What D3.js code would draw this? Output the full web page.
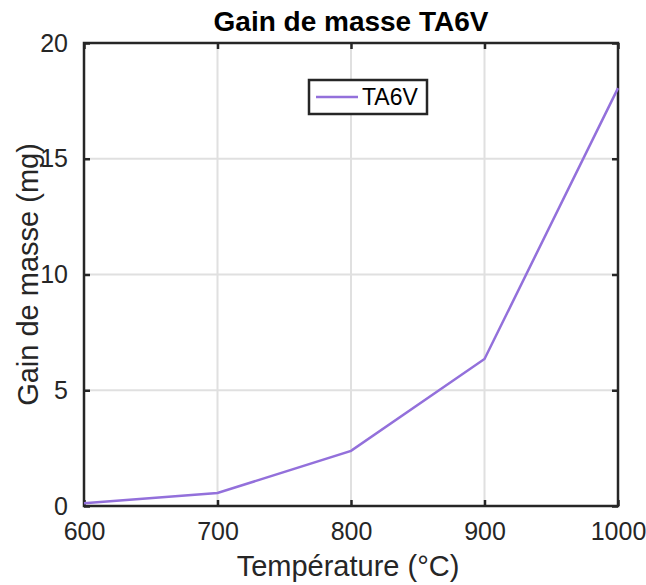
<!DOCTYPE html>
<html>
<head>
<meta charset="utf-8">
<script src="https://cdn.jsdelivr.net/npm/d3@7"></script>
<style>
  body { margin: 0; background: #fff; }
  text { font-family: "Liberation Sans", Arial, sans-serif; fill: #262626; }
</style>
</head>
<body>
<script>
var temperatures = [600, 700, 800, 900, 1000];
var gain = [0.12, 0.56, 2.38, 6.35, 18.05];
var xTicks = [600, 700, 800, 900, 1000];
var yTicks = [0, 5, 10, 15, 20];
var seriesName = 'TA6V';

var w = 646;
var h = 585;
// plot box edges (note: "top" is a reserved window global, so use prefixed names)
var pLeft = 84, pRight = 618, pTop = 43, pBottom = 506;
var axisColor = '#262626';
var lineColor = '#9370db';

var svg = d3.select('body')
            .append('svg')
            .attr('width', w)
            .attr('height', h);

var x = d3.scaleLinear().domain([600, 1000]).range([pLeft, pRight]);
var y = d3.scaleLinear().domain([0, 20]).range([pBottom, pTop]);

// grid
svg.selectAll('line.gx')
  .data(xTicks.slice(1, -1))
  .enter()
  .append('line')
    .attr('x1', d => x(d)).attr('x2', d => x(d))
    .attr('y1', pTop).attr('y2', pBottom)
    .attr('stroke', '#e0e0e0').attr('stroke-width', 2);

svg.selectAll('line.gy')
  .data(yTicks.slice(1, -1))
  .enter()
  .append('line')
    .attr('y1', d => y(d)).attr('y2', d => y(d))
    .attr('x1', pLeft).attr('x2', pRight)
    .attr('stroke', '#e0e0e0').attr('stroke-width', 2);

// axes (ticks inward, box on)
var tickLen = 6;
var fmt = d3.format('d');
var gx = svg.append('g')
  .attr('transform', 'translate(0,' + pBottom + ')')
  .call(d3.axisBottom(x).tickValues(xTicks).tickFormat(fmt).tickSizeInner(-tickLen).tickSizeOuter(0).tickPadding(16));
var gxTop = svg.append('g')
  .attr('transform', 'translate(0,' + pTop + ')')
  .call(d3.axisTop(x).tickValues(xTicks).tickSizeInner(-tickLen).tickSizeOuter(0).tickFormat(''));
var gy = svg.append('g')
  .attr('transform', 'translate(' + pLeft + ',0)')
  .call(d3.axisLeft(y).tickValues(yTicks).tickFormat(fmt).tickSizeInner(-tickLen).tickSizeOuter(0).tickPadding(16));
var gyRight = svg.append('g')
  .attr('transform', 'translate(' + pRight + ',0)')
  .call(d3.axisRight(y).tickValues(yTicks).tickSizeInner(-tickLen).tickSizeOuter(0).tickFormat(''));

[gx, gxTop, gy, gyRight].forEach(g => {
  g.select('.domain').remove();
  g.selectAll('line').attr('stroke', axisColor).attr('stroke-width', 2.5);
  g.selectAll('text').attr('font-size', '25px').attr('fill', axisColor)
    .style('font-family', '"Liberation Sans", Arial, sans-serif');
});

svg.append('rect')
  .attr('x', pLeft).attr('y', pTop)
  .attr('width', pRight - pLeft).attr('height', pBottom - pTop)
  .attr('fill', 'none')
  .attr('stroke', axisColor)
  .attr('stroke-width', 2.5);

// data line
var line = d3.line()
  .x((d, i) => x(temperatures[i]))
  .y(d => y(d));

svg.append('path')
  .datum(gain)
  .attr('d', line)
  .attr('fill', 'none')
  .attr('stroke', lineColor)
  .attr('stroke-width', 2.5);

// legend
var lg = svg.append('g');
lg.append('rect')
  .attr('x', 309).attr('y', 80)
  .attr('width', 118).attr('height', 34)
  .attr('fill', '#fff')
  .attr('stroke', axisColor)
  .attr('stroke-width', 2.5);
lg.append('line')
  .attr('x1', 316).attr('x2', 358)
  .attr('y1', 97).attr('y2', 97)
  .attr('stroke', lineColor)
  .attr('stroke-width', 2.5);
lg.append('text')
  .attr('x', 362).attr('y', 105)
  .attr('font-size', '23px')
  .style('fill', '#000')
  .text(seriesName);

// title and labels
svg.append('text')
  .attr('x', (pLeft + pRight) / 2).attr('y', 31)
  .attr('text-anchor', 'middle')
  .attr('font-size', '28px')
  .attr('font-weight', 'bold')
  .style('fill', '#000')
  .text('Gain de masse TA6V');

svg.append('text')
  .attr('x', (pLeft + pRight) / 2 - 3).attr('y', 576)
  .attr('text-anchor', 'middle')
  .attr('font-size', '29px')
  .text('Température (°C)');

svg.append('text')
  .attr('transform', 'translate(38,' + (pTop + pBottom) / 2 + ') rotate(-90)')
  .attr('text-anchor', 'middle')
  .attr('font-size', '29px')
  .text('Gain de masse (mg)');
</script>
</body>
</html>
